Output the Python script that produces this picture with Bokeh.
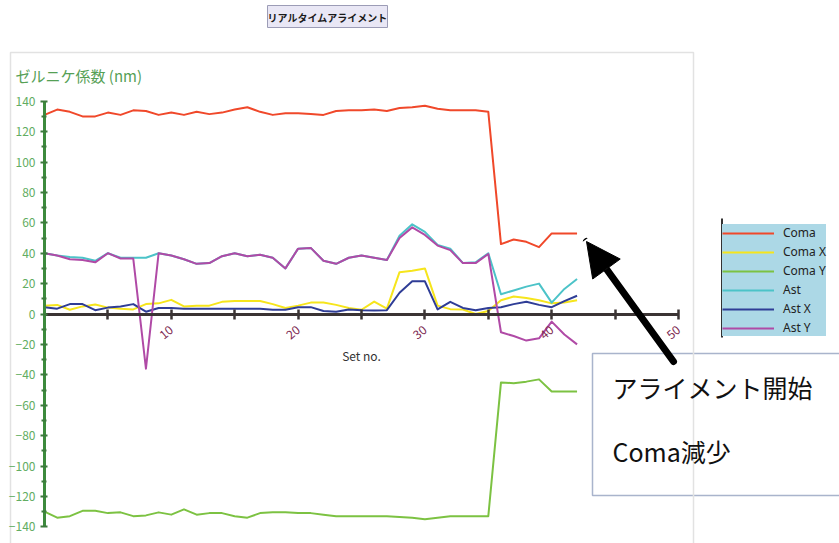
import math
from bokeh.plotting import figure
from bokeh.models import (Range1d, LinearAxis, FixedTicker, Legend, LegendItem,
                          Arrow, NormalHead, Label, BoxAnnotation)
from bokeh.embed import file_html
from bokeh.resources import INLINE

# ---------------- data ----------------
set_no = list(range(43))
coma = [131, 134.5, 133, 130, 130, 132.5, 131, 134, 133.5, 131, 132.5, 131, 133, 131.5,
        132.5, 134.5, 136, 133, 131, 132, 132, 131.5, 131, 133.5, 134, 134, 134.5, 133.5,
        135.5, 136, 137, 135, 134, 134, 134, 133, 46, 49, 47.5, 44, 53, 53, 53]
coma_x = [5.5, 6, 2.8, 5, 6.2, 4.2, 3.5, 3, 6.5, 7, 9.3, 5, 5.5, 5.5, 8, 8.5, 8.5, 8.5,
          6.5, 4, 5.5, 7.5, 7.5, 6, 4, 2.8, 8.2, 3.5, 27.5, 28.5, 30, 5.5, 3.2, 3, 0, 2,
          9, 11.5, 10.5, 9, 7, 7.5, 9]
coma_y = [-130, -134, -133, -129.5, -129.5, -131, -130.5, -133, -132.5, -130.5, -132,
          -128.5, -132, -131, -131, -133, -134, -131, -130.5, -130.5, -131, -131, -132,
          -133, -133, -133, -133, -133, -133.5, -134, -135, -134, -133, -133, -133, -133,
          -45, -45.5, -44.5, -43, -51, -51, -51]
ast = [40, 38.5, 37.5, 37, 35, 40, 37, 37, 37, 40, 38.5, 36, 33, 33.5, 38, 40, 38, 39,
       37, 30, 43, 43.5, 35, 33, 37, 38.5, 37, 35.5, 51.5, 59, 54, 45.5, 43, 33.5, 34, 40,
       13, 15.5, 18, 20, 7.5, 16.5, 23]
ast_x = [4.5, 3.5, 6.5, 6.5, 2.5, 4.2, 5, 6.5, 1.5, 4, 4, 3.5, 3.5, 3.5, 3.5, 3.5, 3.5,
         3.5, 2.8, 2.8, 4.5, 4.5, 2, 1.5, 3, 2.5, 2.3, 2.5, 14, 21.5, 21.5, 3, 8, 4, 2.5,
         4, 4.5, 6.5, 8, 6, 4.5, 8.5, 12]
ast_y = [40, 38.5, 36, 35.5, 34, 40, 36.5, 36.5, -36, 40, 38.5, 36, 33, 33.5, 38, 40, 38,
         39, 37, 30, 43, 43.5, 35, 33, 37, 38.5, 37, 35.5, 50, 57, 52, 45, 42, 33.5, 33.5,
         39.5, -12, -14.5, -17.5, -16, -5, -13.5, -20]

series_names = ["Coma", "Coma X", "Coma Y", "Ast", "Ast X", "Ast Y"]
series_values = [coma, coma_x, coma_y, ast, ast_x, ast_y]
series_colors = ["#f0482a", "#f6e51c", "#7cc242", "#4cc3c8", "#2f3d96", "#b04aa6"]

x_ticks = [10, 20, 30, 40, 50]
x_minor_ticks = [5, 15, 25, 35, 45]
y_ticks = list(range(-140, 141, 20))
y_minor_ticks = list(range(-130, 131, 20))

title_text = "ゼルニケ係数 (nm)"
button_text = "リアルタイムアライメント"
note_lines = ["アライメント開始", "Coma減少"]

JP = "Noto Sans CJK JP"

# page-pixel -> data helpers (figure fills the page from 0,0)
W, H = 839, 543
def dx(px):
    return (px - 44) / 12.68
def dy(py):
    return (313.5 - py) / 1.52

p = figure(width=W, height=H, output_backend="svg", toolbar_location=None,
           x_range=Range1d(dx(0), dx(W)), y_range=Range1d(dy(H), dy(0)),
           x_axis_location=None, y_axis_location=None, min_border=0,
           background_fill_color="white", border_fill_color="white")
p.outline_line_color = None
p.grid.grid_line_color = None
p.min_border_left = p.min_border_right = p.min_border_top = p.min_border_bottom = 0

# annotation box (behind frame line)
p.quad(left=[dx(592)], right=[dx(860)], top=[dy(353)], bottom=[dy(495)],
       fill_color="white", line_color="#a9b4cc", line_width=1.5)

# chart container border
p.quad(left=[dx(10)], right=[dx(693)], top=[dy(52)], bottom=[dy(570)],
       fill_color=None, line_color="#e2e2e2", line_width=1.5)

# button
p.quad(left=[dx(267)], right=[dx(387)], top=[dy(5)], bottom=[dy(27)],
       fill_color="#e9e7f5", line_color="#9c9cb6", line_width=1)
p.add_layout(Label(x=dx(327), y=dy(16.5), text=button_text, text_align="center",
                   text_baseline="middle", text_font=JP, text_font_size="10px",
                   text_color="#1a1a1a", text_font_style="bold"))

# title
p.add_layout(Label(x=dx(15), y=dy(75), text=title_text, text_align="left",
                   text_baseline="middle", text_font=JP, text_font_size="15px",
                   text_color="#55a055"))

# series
renderers = []
for name, vals, col in zip(series_names, series_values, series_colors):
    r = p.line(set_no, vals, line_color=col, line_width=2, line_join="round")
    renderers.append(r)

# axes
xaxis = LinearAxis(fixed_location=0, bounds=(0, 50),
                   ticker=FixedTicker(ticks=x_ticks, minor_ticks=x_minor_ticks),
                   axis_label="Set no.", axis_label_text_font=JP,
                   axis_label_text_font_size="12px", axis_label_text_font_style="normal",
                   axis_label_text_color="#333333", axis_label_standoff=0,
                   axis_line_color="#3b3434", axis_line_width=3,
                   major_tick_line_color="#3b3434", major_tick_line_width=2.5,
                   minor_tick_line_color="#3b3434", minor_tick_line_width=2.5,
                   major_tick_in=5, major_tick_out=5, minor_tick_in=5, minor_tick_out=5,
                   major_label_orientation=0.7, major_label_text_color="#7d2a52",
                   major_label_text_font=JP, major_label_text_font_size="12px",
                   major_label_standoff=9)
p.add_layout(xaxis, "below")

yaxis = LinearAxis(fixed_location=0, bounds=(-140, 140),
                   ticker=FixedTicker(ticks=y_ticks, minor_ticks=y_minor_ticks),
                   axis_line_color="#3d8a3d", axis_line_width=3,
                   major_tick_line_color="#3d7a3d", major_tick_line_width=2,
                   minor_tick_line_color="#3d7a3d", minor_tick_line_width=2,
                   major_tick_in=3, major_tick_out=4, minor_tick_in=2, minor_tick_out=3,
                   major_label_text_color="#62ad62", major_label_text_font=JP,
                   major_label_text_font_size="12px", major_label_standoff=5)
p.add_layout(yaxis, "left")

# legend
legend = Legend(items=[LegendItem(label=n, renderers=[r]) for n, r in zip(series_names, renderers)],
                location=(722, 207), orientation="vertical",
                glyph_width=52, glyph_height=14, label_height=14, label_standoff=9,
                spacing=2, padding=3, margin=0,
                label_text_font="Noto Sans", label_text_font_size="12px",
                label_text_color="#222222",
                background_fill_color="#acd8e6", background_fill_alpha=1,
                border_line_color=None)
p.add_layout(legend, "center")
p.add_layout(BoxAnnotation(left=dx(720.5), right=dx(722.5), top=dy(218), bottom=dy(337),
                           fill_color="#333333", fill_alpha=1, line_color=None,
                           level="overlay"))

# arrow
p.add_layout(Arrow(x_start=dx(673), y_start=dy(361), x_end=dx(586), y_end=dy(241),
                   line_color="black", line_width=7, line_cap="round",
                   end=NormalHead(size=34, fill_color="black", line_color="black")))

# note texts
p.add_layout(Label(x=dx(612), y=dy(386), text=note_lines[0], text_align="left",
                   text_baseline="middle", text_font=JP, text_font_size="25px",
                   text_color="#111111"))
p.add_layout(Label(x=dx(612), y=dy(450), text=note_lines[1], text_align="left",
                   text_baseline="middle", text_font=JP, text_font_size="25px",
                   text_color="#111111"))

open("out.html", "w").write(file_html(p, INLINE))
